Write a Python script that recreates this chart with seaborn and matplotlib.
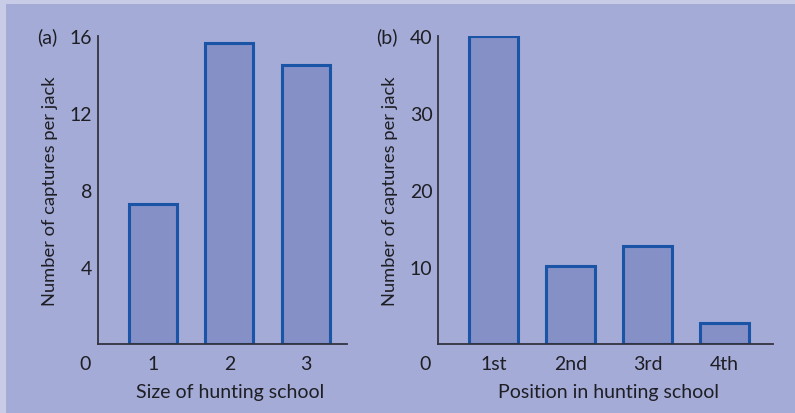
import matplotlib
matplotlib.use("Agg")
import matplotlib.pyplot as plt
import seaborn as sns
import pandas as pd
from matplotlib.patches import Rectangle

# ---- data ----
size_cats = ["1", "2", "3"]
size_vals = [7.27, 15.64, 14.49]
size_yticks = [4, 8, 12, 16]

pos_cats = ["1st", "2nd", "3rd", "4th"]
pos_vals = [40.0, 10.1, 12.7, 2.7]
pos_yticks = [10, 20, 30, 40]

ylabel = "Number of captures per jack"
xlabel_a = "Size of hunting school"
xlabel_b = "Position in hunting school"

# ---- style ----
sns.set_theme(style="white")
plt.rcParams["font.family"] = ["Lato", "DejaVu Sans"]

outer_bg = "#c8cce6"
panel_bg = "#a3abd6"
bar_fill = "#8490c6"
bar_edge = "#1a54a6"
axis_col = "#333340"
text_col = "#1e1e24"
fs = 14

fig = plt.figure(figsize=(7.95, 4.14), dpi=100)
fig.patch.set_facecolor(outer_bg)
fig.patches.append(Rectangle((6 / 795, 0), 1, 1 - 5 / 414, transform=fig.transFigure,
                             facecolor=panel_bg, edgecolor="none", zorder=-10))

W, H = 795, 414
ax_a = fig.add_axes([98 / W, (H - 345) / H, 249 / W, 308 / H])
ax_b = fig.add_axes([438 / W, (H - 345) / H, 335 / W, 308 / H])


def draw(ax, cats, vals, yticks, ymax, xlim, xlabel, tag, ylab_x, xlab_x):
    df = pd.DataFrame({"cat": cats, "val": vals})
    sns.barplot(data=df, x="cat", y="val", ax=ax, color=bar_fill, saturation=1,
                edgecolor=bar_edge, linewidth=2.2, width=0.63, zorder=2)
    ax.set_facecolor("none")
    ax.set_ylim(0, ymax)
    ax.set_xlim(*xlim)
    ax.set_yticks(yticks)
    ax.set_yticklabels([str(t) for t in yticks])
    for s in ["top", "right"]:
        ax.spines[s].set_visible(False)
    for s in ["left", "bottom"]:
        ax.spines[s].set_color(axis_col)
        ax.spines[s].set_linewidth(1.3)
        ax.spines[s].set_zorder(3)
    ax.tick_params(axis="y", direction="in", length=6.5, width=1.3, color=axis_col,
                   labelsize=fs, labelcolor=text_col, pad=4)
    ax.tick_params(axis="x", length=0, labelsize=fs, labelcolor=text_col, pad=8)
    ax.set_ylabel(ylabel, fontsize=13.2, color=text_col)
    ax.yaxis.set_label_coords(ylab_x, 0.5)
    ax.set_xlabel(xlabel, fontsize=fs, color=text_col)
    ax.xaxis.set_label_coords(xlab_x, -0.128)
    ax.annotate("0", xy=(0, 0), xycoords="axes fraction", xytext=(-9, -8),
                textcoords="offset points", ha="center", va="top",
                fontsize=fs, color=text_col)
    ax.annotate(tag, xy=(0, 1), xycoords="axes fraction", xytext=(-29, 0),
                textcoords="offset points", ha="right", va="center",
                fontsize=fs, color=text_col)


draw(ax_a, size_cats, size_vals, size_yticks, 16, (-0.72, 2.54), xlabel_a, "(a)", -0.161, 0.532)
draw(ax_b, pos_cats, pos_vals, pos_yticks, 40, (-0.72, 3.63), xlabel_b, "(b)", -0.12, 0.508)

fig.savefig("out.png", dpi=100, facecolor=fig.get_facecolor())
